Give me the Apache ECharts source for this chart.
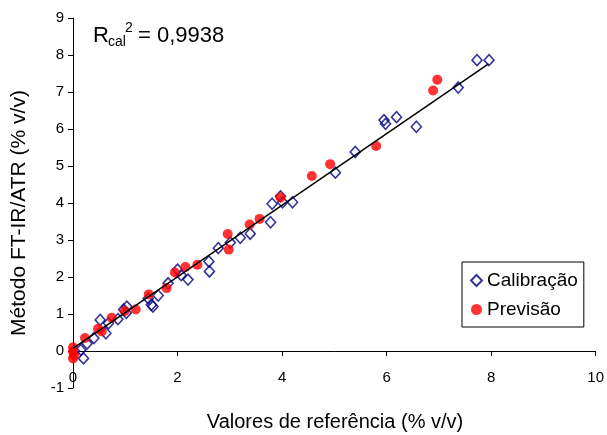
<!DOCTYPE html>
<html>
<head>
<meta charset="utf-8">
<script src="https://cdn.jsdelivr.net/npm/echarts@6/dist/echarts.min.js"></script>
<style>
  html, body { margin: 0; padding: 0; background: #fff; }
  #chart { width: 607px; height: 435px; }
</style>
</head>
<body>
<div id="chart"></div>
<script>
// reference values (% v/v)
const calibracao = [
  [0.03, 0.0], [0.2, -0.2], [0.15, 0.03], [0.27, 0.2], [0.4, 0.35],
  [0.52, 0.84], [0.63, 0.48], [0.68, 0.75], [0.86, 0.86], [0.97, 1.12],
  [1.02, 1.03], [1.03, 1.2], [1.44, 1.42], [1.5, 1.25], [1.53, 1.2],
  [1.63, 1.5], [1.82, 1.83], [2.0, 2.2], [2.07, 2.05], [2.2, 1.93],
  [2.6, 2.42], [2.61, 2.15], [2.78, 2.78], [3.01, 2.93], [3.2, 3.06],
  [3.39, 3.17], [3.78, 3.48], [3.81, 3.98], [3.97, 4.18], [4.01, 4.02],
  [4.2, 4.02], [5.02, 4.82], [5.4, 5.38], [5.95, 6.24], [5.98, 6.14],
  [6.19, 6.32], [6.57, 6.06], [7.37, 7.12], [7.73, 7.86], [7.96, 7.86]
];
const previsao = [
  [0.0, 0.1], [0.0, -0.02], [0.02, -0.12], [0.0, -0.2], [0.23, 0.35],
  [0.48, 0.6], [0.55, 0.53], [0.74, 0.9], [0.99, 1.08], [1.2, 1.12],
  [1.45, 1.53], [1.79, 1.7], [1.95, 2.12], [2.15, 2.27], [2.38, 2.33],
  [2.96, 3.16], [2.98, 2.74], [3.38, 3.42], [3.57, 3.57], [3.97, 4.15],
  [4.57, 4.73], [4.92, 5.05], [5.8, 5.54], [6.89, 7.04], [6.97, 7.33]
];
// fitted calibration line, start and end
const ajuste = [[0, 0.07], [7.95, 7.76]];
const xTicks = [0, 2, 4, 6, 8, 10];
const yTicks = [-1, 0, 1, 2, 3, 4, 5, 6, 7, 8, 9];

const font = "'Liberation Sans', Arial, sans-serif";
const chart = echarts.init(document.getElementById("chart"));

chart.setOption({
  animation: false,
  grid: { left: 73, right: 10, top: 18, bottom: 47 },
  xAxis: {
    type: "value",
    min: xTicks[0],
    max: xTicks[xTicks.length - 1],
    interval: 2,
    axisLine: { onZero: true, lineStyle: { color: "#000", width: 1 } },
    axisTick: { show: true, length: 5, lineStyle: { color: "#000" } },
    axisLabel: { color: "#000", fontSize: 15, fontFamily: font, margin: -18 },
    splitLine: { show: false }
  },
  yAxis: {
    type: "value",
    min: yTicks[0],
    max: yTicks[yTicks.length - 1],
    interval: 1,
    axisLine: { show: true, lineStyle: { color: "#000", width: 1 } },
    axisTick: { show: true, length: 5, lineStyle: { color: "#000" } },
    axisLabel: { color: "#000", fontSize: 15, fontFamily: font, margin: 9 },
    splitLine: { show: false }
  },
  legend: {
    orient: "vertical",
    left: 462,
    top: 262,
    padding: [9, 6, 8, 8],
    itemGap: 10,
    itemWidth: 11,
    itemHeight: 11,
    borderColor: "#000",
    borderWidth: 1,
    textStyle: { color: "#000", fontSize: 19, fontFamily: font },
    data: ["Calibração", "Previsão"]
  },
  graphic: [
    { type: "text", left: 93, top: 25, style: { text: "R", font: "22px " + font, fill: "#000" } },
    { type: "text", left: 108, top: 35, style: { text: "cal", font: "14px " + font, fill: "#000" } },
    { type: "text", left: 125, top: 21, style: { text: "2", font: "14px " + font, fill: "#000" } },
    { type: "text", left: 138, top: 25, style: { text: "= 0,9938", font: "22px " + font, fill: "#000" } },
    {
      type: "text", x: 335, y: 422,
      style: { text: "Valores de referência (% v/v)", font: "20px " + font, fill: "#000", align: "center", verticalAlign: "middle" }
    },
    {
      type: "text", x: 19, y: 213, rotation: Math.PI / 2,
      style: { text: "Método FT-IR/ATR (% v/v)", font: "21px " + font, fill: "#000", align: "center", verticalAlign: "middle" }
    }
  ],
  series: [
    {
      name: "Calibração",
      type: "scatter",
      symbol: "diamond",
      symbolSize: [10, 11],
      itemStyle: { color: "rgba(255,255,255,0)", borderColor: "#000080", borderWidth: 1.6 },
      data: calibracao,
      z: 2
    },
    {
      name: "Previsão",
      type: "scatter",
      symbol: "circle",
      symbolSize: 10,
      itemStyle: { color: "#ff0000" },
      data: previsao,
      z: 3
    },
    {
      name: "ajuste",
      type: "line",
      data: ajuste,
      showSymbol: false,
      lineStyle: { color: "#000", width: 1.5 },
      silent: true,
      z: 4
    }
  ]
});
</script>
</body>
</html>
